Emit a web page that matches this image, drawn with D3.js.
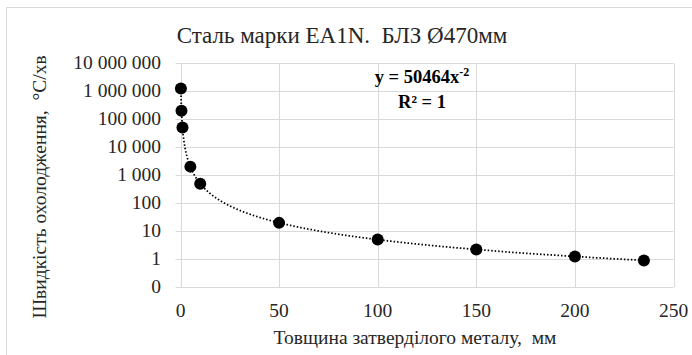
<!DOCTYPE html>
<html><head><meta charset="utf-8">
<script src="https://cdn.jsdelivr.net/npm/d3@7"></script>
</head>
<body style="margin:0;background:#fff"><svg id="c" width="692" height="355"></svg>
<script>
const thickness = [0.2, 0.5, 1, 5, 10, 50, 100, 150, 200, 235];
const rate = [1261600, 201856, 50464, 2040, 500, 20, 5.05, 2.24, 1.26, 0.91];
const xTicks = [0, 50, 100, 150, 200, 250];
const yTicks = [0.1, 1, 10, 100, 1000, 10000, 100000, 1000000, 10000000];
const yTickLabels = ["0", "1", "10", "100", "1 000", "10 000", "100 000", "1 000 000", "10 000 000"];
const trendCoef = [50464, -2];
const title = "Сталь марки EA1N.  БЛЗ Ø470мм";
const xTitle = "Товщина затверділого металу,  мм";
const yTitle = "Швидкість охолодження,  °С/хв";

const svg = d3.select("#c");
const FF = '"Liberation Serif", "Times New Roman", serif';
const m = {l:180.5, r:673.5, t:63.3, b:287.3};
const x = d3.scaleLinear().domain([0,250]).range([m.l, m.r]);
const y = d3.scaleLog().domain([0.1, 1e7]).range([m.b, m.t]);

svg.append("rect").attr("x",6.5).attr("y",7.5).attr("width",700).attr("height",400)
  .attr("fill","none").attr("stroke","#d9d9d9");

svg.append("g").selectAll("line").data(yTicks).join("line")
  .attr("x1", m.l-5).attr("x2", m.r).attr("y1", d=>Math.round(y(d))+0.5).attr("y2", d=>Math.round(y(d))+0.5)
  .attr("stroke","#d9d9d9");
svg.append("g").selectAll("line").data(xTicks).join("line")
  .attr("x1", d=>Math.round(x(d))+0.5).attr("x2", d=>Math.round(x(d))+0.5).attr("y1", m.t).attr("y2", m.b)
  .attr("stroke","#d9d9d9");

svg.append("g").selectAll("text").data(yTicks).join("text")
  .style("font-family", FF).attr("fill","#262626")
  .attr("x", 161).attr("y", d=>y(d)+5.5).attr("text-anchor","end")
  .attr("font-size", 19.5).text((d,i)=>yTickLabels[i]);
svg.append("g").selectAll("text").data(xTicks).join("text")
  .style("font-family", FF).attr("fill","#262626")
  .attr("x", d=>x(d)).attr("y", 317).attr("text-anchor","middle")
  .attr("font-size", 19.5).text(d=>d);

const tx = d3.range(thickness[0], thickness[thickness.length-1]+0.001, 0.1);
const line = d3.line().x(d=>x(d)).y(d=>y(trendCoef[0]*Math.pow(d, trendCoef[1])));
svg.append("path").datum(tx).attr("d", line).attr("fill","none")
  .attr("stroke","#000").attr("stroke-width",1.75).attr("stroke-dasharray","1.5,2");

svg.append("g").selectAll("circle").data(thickness).join("circle")
  .attr("cx", d=>x(d)).attr("cy", (d,i)=>y(rate[i])).attr("r", 6).attr("fill","#000");

svg.append("text").style("font-family", FF).attr("fill","#262626")
  .attr("x", 342).attr("y", 43).attr("text-anchor","middle")
  .attr("font-size", 23).style("white-space","pre").text(title);
svg.append("text").style("font-family", FF).attr("fill","#262626")
  .attr("x", 415).attr("y", 344).attr("text-anchor","middle")
  .attr("font-size", 19.5).style("white-space","pre").text(xTitle);
svg.append("text").style("font-family", FF).attr("fill","#262626")
  .attr("transform","translate(46,187) rotate(-90)").attr("text-anchor","middle")
  .attr("font-size", 19.5).style("white-space","pre").text(yTitle);

const eq = svg.append("text").style("font-family", FF).attr("x", 422).attr("y", 83).attr("text-anchor","middle")
  .attr("font-size", 18.5).attr("font-weight","bold").attr("fill","#000");
eq.append("tspan").text("y = 50464x");
eq.append("tspan").attr("dy",-7).attr("font-size",12).text("-2");
svg.append("text").style("font-family", FF).attr("x", 422).attr("y", 108).attr("text-anchor","middle")
  .attr("font-size", 18.5).attr("font-weight","bold").attr("fill","#000").text("R² = 1");
</script></body></html>
